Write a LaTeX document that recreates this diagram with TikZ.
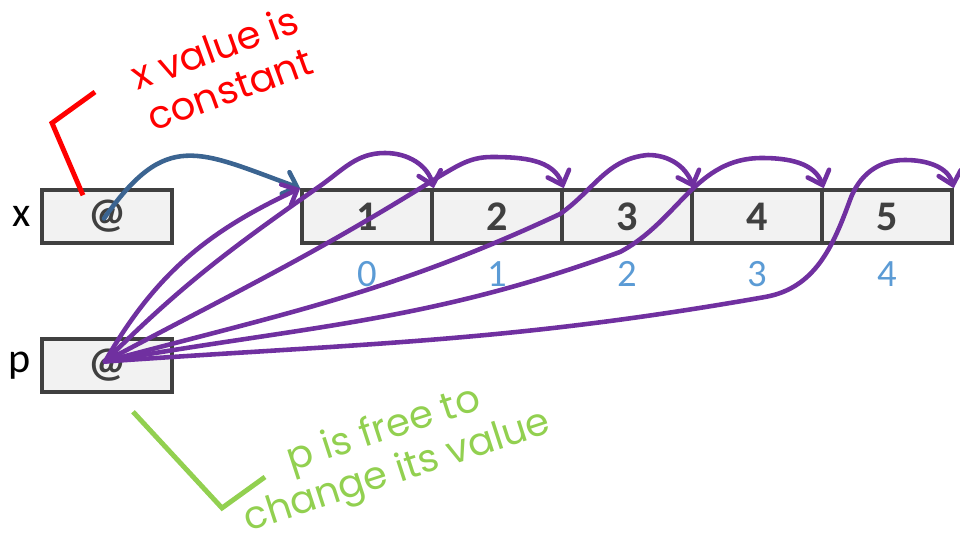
\documentclass[tikz,border=0pt]{standalone}
\usepackage{fontspec}
\setmainfont{Carlito}
\newfontfamily\handfont{Poppins}
\usepackage{tikz}
\usetikzlibrary{positioning,arrows.meta,calc}
\definecolor{boxGray}{HTML}{F2F2F2}
\definecolor{lineGray}{HTML}{404040}
\definecolor{ptrPurple}{HTML}{7030A0}
\definecolor{ptrBlue}{HTML}{3B6491}
\definecolor{idxBlue}{HTML}{5B9BD5}
\definecolor{noteGreen}{HTML}{92D050}
\definecolor{noteRed}{HTML}{FF0000}

\begin{document}
\begin{tikzpicture}[x=0.02cm,y=0.02cm,
      cell/.style={draw=lineGray,line width=2pt,fill=boxGray,minimum width=2.6cm,minimum height=1.06cm,
        inner sep=0pt,text=lineGray,font=\fontsize{24}{28}\selectfont\bfseries},
      idx/.style={text=idxBlue,font=\fontsize{22}{26}\selectfont},
      lbl/.style={inner sep=2pt,font=\fontsize{24}{28}\selectfont},
      ptr/.style={line width=2.6pt,line cap=round,-{Straight Barb[length=7pt,width=13pt,line cap=round]}},
      note/.style={align=center,font=\handfont\fontsize{22}{25}\selectfont}]
    \path[use as bounding box] (0,0) rectangle (960,-540);
    \node[cell] (xbox) at (107,-216.5) {@};
    \node[cell] (pbox) at (107,-365.5) {@};
    \node[lbl,left=3pt of xbox] (xlbl) {x};
    \node[lbl,left=3pt of pbox] (plbl) {p};
    \foreach \i in {1,...,5}{
      \pgfmathtruncatemacro\k{\i-1}
      \node[cell] (c\i) at ({302+130*(\i-1)+65},-216.5) {\i};
      \node[idx] (i\i) at ($(c\i.south)+(0,-29)$) {\k};
    }
    % x points at the start of the array
    \draw[ptr,ptrBlue] ($(xbox.center)+(-3,-2)$) to[out=55,in=160,looseness=1.4] (c1.north west);
    % p can point anywhere in it
    \coordinate (pat) at ($(pbox.center)+(-2,4)$);
    \begin{scope}[ptrPurple]
      \draw[ptr] (pat) to[out=60,in=205] (c1.north west);
      \draw[ptr] (pat) to[out=45,in=215] (320,-186) to[out=35,in=180] (385,-153) to[out=0,in=105] (c1.north east);
      \draw[ptr] (pat) to[out=28,in=212] (440,-176) to[out=30,in=180] (492,-157) to[out=0,in=110] (c2.north east);
      \draw[ptr] (pat) to[out=15,in=205] (560,-214) to[out=35,in=185] (648,-155) to[out=0,in=110] (c3.north east);
      \draw[ptr] (pat) to[out=10,in=200] (620,-252) to[out=28,in=180] (762,-158) to[out=0,in=110] (c4.north east);
      \draw[ptr] (pat) to[out=4,in=190] (765,-297) to[out=10,in=250] (850,-200) to[out=70,in=180] (905,-160) to[out=0,in=105] (c5.north east);
    \end{scope}
    % notes
    \draw[noteRed,line width=2.8pt] ($(xbox.north)+(-24,-7)$) -- (52,-123) -- (95,-92);
    \node[note,text=noteRed,rotate=20] (xnote) at (222,-68) {x value is\\constant};
    \draw[noteGreen,line width=2.8pt] ($(pbox.south)+(26,-18)$) -- (222,-508) -- (265,-477);
    \node[note,text=noteGreen,rotate=18] (pnote) at (391,-452) {p is free to\\change its value};
  \end{tikzpicture}
\end{document}
